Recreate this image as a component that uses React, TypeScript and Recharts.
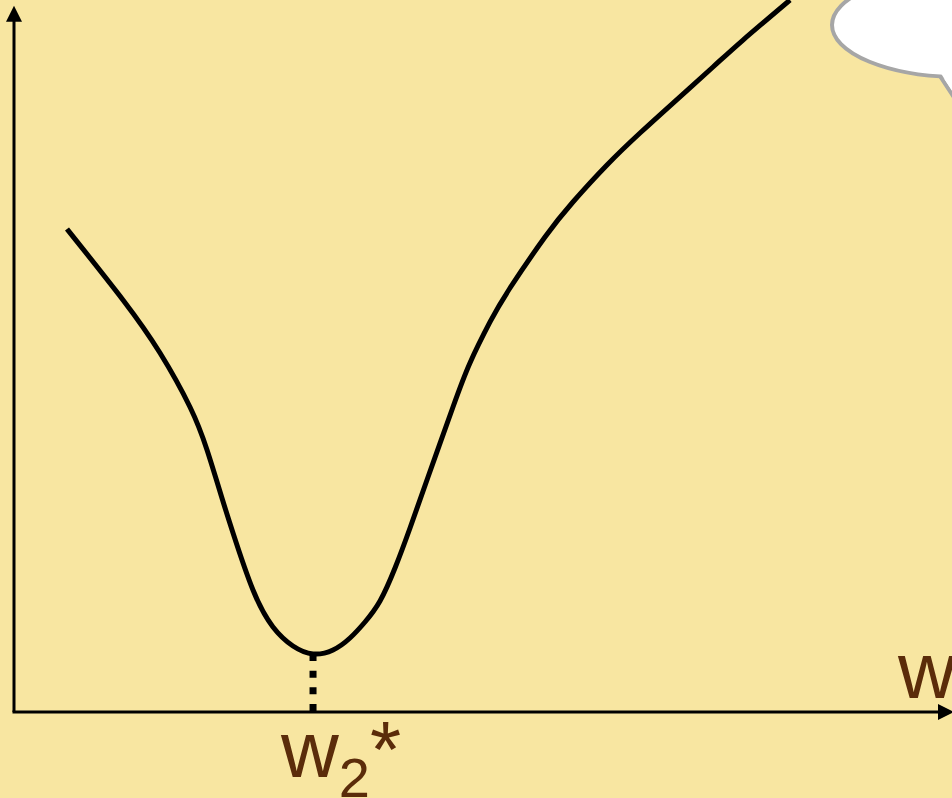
import React from "react";
import { LineChart, Line, XAxis, YAxis, ReferenceLine, ReferenceDot } from "recharts";

// Curve samples (w, loss)
const wValues = [0.565, 1.162, 1.557, 1.876, 2.058, 2.217, 2.335, 2.548, 2.761, 2.974, 3.188, 3.401, 3.582, 3.742, 3.902, 4.062, 4.222, 4.414, 4.680, 4.861, 5.075, 5.288, 5.661, 5.959, 6.322, 6.674, 7.026, 7.452, 7.772, 8.273];
const lossValues = [6.784, 5.787, 5.042, 4.284, 3.680, 3.006, 2.514, 1.713, 1.194, 0.927, 0.815, 0.871, 1.039, 1.264, 1.559, 2.022, 2.584, 3.301, 4.284, 4.902, 5.478, 5.955, 6.671, 7.163, 7.683, 8.132, 8.553, 9.059, 9.438, 10.0];
const xDomain = [0, 10];
const yDomain = [0, 10];
const yAxisTop = 9.92;
const minLabel = { main: "w", sub: "2", sup: "*" };
const axisLabel = "w";

const data = wValues.map((w, i) => ({ w, loss: lossValues[i] }));
let minIdx = 0;
lossValues.forEach((v, i) => { if (v < lossValues[minIdx]) minIdx = i; });
const minPoint = data[minIdx];

const BG = "#F8E6A1";
const TEXT = "#5B2C0A";
const FONT = "'Liberation Sans', Arial, sans-serif";

const YAxisShape = (p: any) => {
  const { x1, y1, x2, y2 } = p;
  const top = Math.min(y1, y2);
  const bottom = Math.max(y1, y2);
  return (
    <g>
      <line x1={x1} y1={bottom} x2={x1} y2={top + 14} stroke="#000" strokeWidth={3} />
      <polygon points={`${x1},${top} ${x1 - 8},${top + 16} ${x1 + 8},${top + 16}`} fill="#000" />
    </g>
  );
};

const XAxisShape = (p: any) => {
  const { x1, y1, x2 } = p;
  const right = Math.max(x1, x2) + 2;
  const left = Math.min(x1, x2) - 1.5;
  return (
    <g>
      <line x1={left} y1={y1} x2={right - 14} y2={y1} stroke="#000" strokeWidth={3} />
      <polygon points={`${right},${y1} ${right - 16},${y1 - 8} ${right - 16},${y1 + 8}`} fill="#000" />
    </g>
  );
};

const DottedShape = (p: any) => {
  const { x1, y1, x2, y2 } = p;
  return <line x1={x1} y1={y1} x2={x2} y2={y2} stroke="#000" strokeWidth={7} strokeDasharray="7 9.7" />;
};

const MinLabelShape = (p: any) => {
  const { cx, cy } = p;
  return (
    <text x={cx - 32} y={cy + 65} fill={TEXT} fontFamily={FONT} fontSize={80}>
      <tspan>{minLabel.main}</tspan>
      <tspan fontSize={56} dy={20}>{minLabel.sub}</tspan>
      <tspan dy={-20}>{minLabel.sup}</tspan>
    </text>
  );
};

const AxisLabelShape = (p: any) => {
  const { cx, cy } = p;
  return (
    <text x={cx - 54} y={cy - 14} fill={TEXT} fontFamily={FONT} fontSize={80}>
      {axisLabel}
    </text>
  );
};

export default function App() {
  return (
    <div style={{ position: "absolute", left: 0, top: 0, width: 952, height: 798, background: BG, overflow: "hidden" }}>
      <LineChart width={952} height={798} data={data} margin={{ top: 0, right: 0, bottom: 86, left: 14 }}>
        <XAxis type="number" dataKey="w" domain={xDomain} hide allowDataOverflow />
        <YAxis type="number" domain={yDomain} hide allowDataOverflow />
        <ReferenceLine ifOverflow="visible" segment={[{ x: 0, y: 0 }, { x: 0, y: yAxisTop }]} shape={YAxisShape} />
        <ReferenceLine ifOverflow="visible" segment={[{ x: 0, y: 0 }, { x: xDomain[1], y: 0 }]} shape={XAxisShape} />
        <ReferenceLine ifOverflow="visible" segment={[{ x: minPoint.w, y: minPoint.loss }, { x: minPoint.w, y: 0 }]} shape={DottedShape} />
        <Line type="natural" dataKey="loss" stroke="#000" strokeWidth={5} dot={false} activeDot={false} isAnimationActive={false} />
        <ReferenceDot ifOverflow="visible" x={minPoint.w} y={0} shape={MinLabelShape} />
        <ReferenceDot ifOverflow="visible" x={xDomain[1]} y={0} shape={AxisLabelShape} />
      </LineChart>
      <svg width={952} height={798} style={{ position: "absolute", left: 0, top: 0, pointerEvents: "none" }}>
        <polygon points="936,70 972,125 990,70" fill="#fff" stroke="#A6A6A6" strokeWidth={4} />
        <ellipse cx={960} cy={25} rx={128} ry={52} fill="#fff" stroke="#A6A6A6" strokeWidth={4} />
        <polygon points="940,72 970,118 985,72" fill="#fff" />
      </svg>
    </div>
  );
}
